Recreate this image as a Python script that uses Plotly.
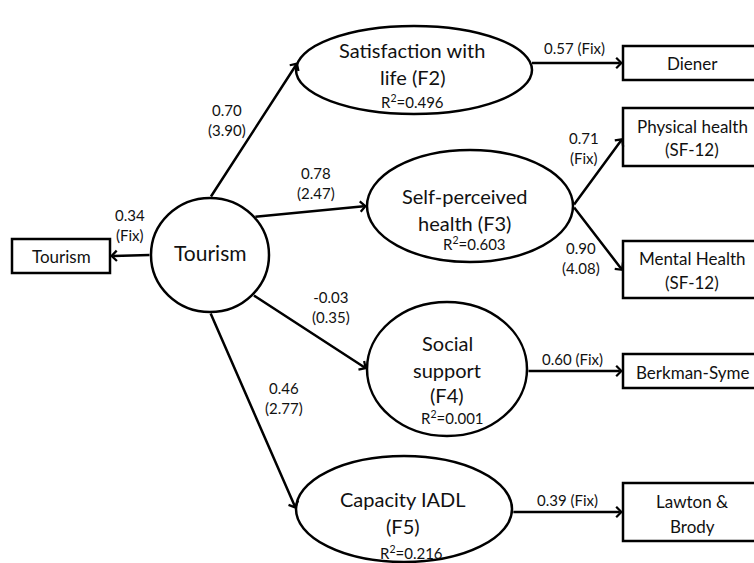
import math
import plotly.graph_objects as go

# ---------------- data ----------------
latent_names = ["Tourism", "F2", "F3", "F4", "F5"]
latent_lines = [["Tourism"],
                ["Satisfaction with", "life (F2)"],
                ["Self-perceived", "health (F3)"],
                ["Social", "support", "(F4)"],
                ["Capacity IADL", "(F5)"]]
structural_targets = ["F2", "F3", "F4", "F5"]
structural_coef = [0.70, 0.78, -0.03, 0.46]
structural_t = [3.90, 2.47, 0.35, 2.77]
r_squared = [0.496, 0.603, 0.001, 0.216]

indicator_names = ["Tourism", "Diener", "Physical health", "Mental Health", "Berkman-Syme", "Lawton"]
indicator_lines = [["Tourism"], ["Diener"], ["Physical health", "(SF-12)"],
                   ["Mental Health", "(SF-12)"], ["Berkman-Syme"], ["Lawton &", "Brody"]]
indicator_factor = ["Tourism", "F2", "F3", "F3", "F4", "F5"]
loading_coef = [0.34, 0.57, 0.71, 0.90, 0.60, 0.39]
loading_t = [None, None, None, 4.08, None, None]   # None -> fixed parameter

# ---------------- layout geometry (pixels, y downwards) ----------------
W, H = 754, 563
ell = {"Tourism": (210, 255, 59, 57), "F2": (414, 70, 118, 44), "F3": (470, 206, 103, 56),
       "F4": (447, 369, 80, 67), "F5": (404, 509, 108, 53)}
text_y = {"Tourism": [252], "F2": [50, 77], "F3": [196, 223], "F4": [343, 370, 395], "F5": [499, 526]}
text_x = {"Tourism": 210, "F2": 412, "F3": 464, "F4": 447, "F5": 403}
r2_pos = {"F2": (412, 101), "F3": (474, 243), "F4": (452, 417), "F5": (411, 552)}
box = {"Tourism": (12, 239, 110, 273), "Diener": (623, 46, 765, 80),
       "Physical health": (623, 108, 765, 166), "Mental Health": (623, 241, 765, 298),
       "Berkman-Syme": (623, 354, 765, 388), "Lawton": (623, 483, 765, 541)}
box_text_y = {"Tourism": [256], "Diener": [63], "Physical health": [126, 149],
              "Mental Health": [258, 282], "Berkman-Syme": [372], "Lawton": [501, 526]}
box_text_x = {"Tourism": 61}
struct_angles = {"F2": (-90, 190), "F3": (-42, 180), "F4": (44, 180), "F5": (90, 180)}
struct_label = {"F2": (227, 120), "F3": (316, 183), "F4": (331, 307), "F5": (284, 398)}
load_label = {"Tourism": (130, 225, True), "Diener": (574, 48, False),
              "Physical health": (584, 148, True), "Mental Health": (581, 258, True),
              "Berkman-Syme": (572, 359, False), "Lawton": (567, 500, False)}
load_head_y = {"Tourism": 256, "Diener": 63, "Physical health": 138, "Mental Health": 271,
               "Berkman-Syme": 371, "Lawton": 512}

FONT = "Lato"
LW = 2.5


def ell_pt(name, deg):
    cx, cy, rx, ry = ell[name]
    t = math.radians(deg)
    return cx + rx * math.cos(t), cy + ry * math.sin(t)


def ell_x_at_y(name, y, side=1):
    cx, cy, rx, ry = ell[name]
    v = max(0.0, 1 - ((y - cy) / ry) ** 2)
    return cx + side * rx * math.sqrt(v)


fig = go.Figure()
fig.add_trace(go.Scatter(x=[0, W], y=[0, H], mode="markers", marker=dict(opacity=0),
                         hoverinfo="skip", showlegend=False))

shapes = []
annotations = []

# latent ellipses
for name, lines in zip(latent_names, latent_lines):
    cx, cy, rx, ry = ell[name]
    shapes.append(dict(type="circle", xref="x", yref="y", x0=cx - rx, x1=cx + rx,
                       y0=cy - ry, y1=cy + ry, line=dict(color="black", width=LW),
                       fillcolor="white", layer="above"))
    size = 21 if name == "Tourism" else 20
    for ln, yy in zip(lines, text_y[name]):
        annotations.append(dict(x=text_x[name], y=yy, xref="x", yref="y", text=ln,
                                showarrow=False, font=dict(family=FONT, size=size, color="#111"),
                                xanchor="center", yanchor="middle"))

for name, r2 in zip(structural_targets, r_squared):
    x, y = r2_pos[name]
    annotations.append(dict(x=x, y=y, xref="x", yref="y", text=f"R<sup>2</sup>=<span>{r2:.3f}</span>",
                            showarrow=False, font=dict(family=FONT, size=15, color="#111"),
                            xanchor="center", yanchor="middle"))

# indicator boxes
for name, lines in zip(indicator_names, indicator_lines):
    x0, y0, x1, y1 = box[name]
    shapes.append(dict(type="rect", xref="x", yref="y", x0=x0, x1=x1, y0=y0, y1=y1,
                       line=dict(color="black", width=LW), fillcolor="white", layer="above"))
    tx = box_text_x.get(name, 692)
    for ln, yy in zip(lines, box_text_y[name]):
        annotations.append(dict(x=tx, y=yy, xref="x", yref="y", text=ln, showarrow=False,
                                font=dict(family=FONT, size=17, color="#111"),
                                xanchor="center", yanchor="middle"))


def arrow(tail, head):
    annotations.append(dict(x=head[0], y=head[1], ax=tail[0], ay=tail[1], xref="x", yref="y",
                            axref="x", ayref="y", text="", showarrow=True, arrowhead=4,
                            arrowsize=0.8, arrowwidth=LW, arrowcolor="black",
                            standoff=0, startstandoff=0))


# structural paths
for tgt, b, t in zip(structural_targets, structural_coef, structural_t):
    a0, a1 = struct_angles[tgt]
    arrow(ell_pt("Tourism", a0), ell_pt(tgt, a1))
    lx, ly = struct_label[tgt]
    annotations.append(dict(x=lx, y=ly, xref="x", yref="y", text=f"{b:.2f}<br>({t:.2f})",
                            showarrow=False, font=dict(family=FONT, size=15, color="#111"),
                            xanchor="center", yanchor="middle"))

# measurement paths
for ind, fac, lam, t in zip(indicator_names, indicator_factor, loading_coef, loading_t):
    hy = load_head_y[ind]
    x0, y0, x1, y1 = box[ind]
    if fac == "Tourism":
        tail = ell_pt("Tourism", 180)
        head = (x1, hy)
    elif fac == "F3":
        tail = ell_pt("F3", 0)
        head = (x0, hy)
    else:
        tail = (ell_x_at_y(fac, hy), hy)
        head = (x0, hy)
    arrow(tail, head)
    second = "(Fix)" if t is None else f"({t:.2f})"
    lx, ly, two = load_label[ind]
    txt = f"{lam:.2f}<br>{second}" if two else f"{lam:.2f} {second}"
    annotations.append(dict(x=lx, y=ly, xref="x", yref="y", text=txt, showarrow=False,
                            font=dict(family=FONT, size=15, color="#111"),
                            xanchor="center", yanchor="middle"))

fig.update_layout(
    width=W, height=H, margin=dict(l=0, r=0, t=0, b=0),
    paper_bgcolor="white", plot_bgcolor="white",
    xaxis=dict(range=[0, W], visible=False, fixedrange=True),
    yaxis=dict(range=[H, 0], visible=False, fixedrange=True),
    shapes=shapes, annotations=annotations, showlegend=False,
)
fig.write_html("out.html", config={"displayModeBar": False},
               post_script="document.body.style.margin='0px';document.body.style.overflow='hidden';")
